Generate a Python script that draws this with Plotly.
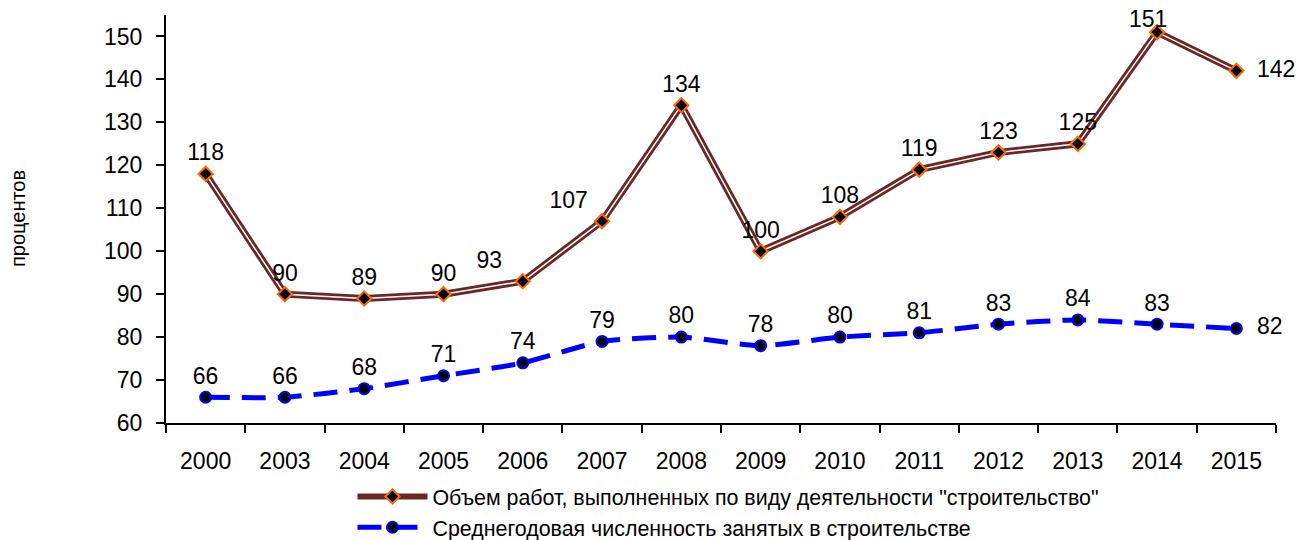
import plotly.graph_objects as go

years = ["2000", "2003", "2004", "2005", "2006", "2007", "2008",
         "2009", "2010", "2011", "2012", "2013", "2014", "2015"]
volume = [118, 90, 89, 90, 93, 107, 134, 100, 108, 119, 123, 125, 151, 142]
employment = [66, 66, 68, 71, 74, 79, 80, 78, 80, 81, 83, 84, 83, 82]

name_volume = 'Объем работ, выполненных по виду деятельности "строительство"'
name_employment = "Среднегодовая численность занятых в строительстве"
y_title = "процентов"

FONT = "Arial, 'Liberation Sans', sans-serif"
NUM_SIZE = 23

peak = volume.index(max(volume))

vol_pos = ["top center"] * len(years)
vol_pos[4] = "top left"
vol_pos[5] = "top left"
vol_pos[-1] = "middle right"
emp_pos = ["top center"] * len(years)
emp_pos[-1] = "middle right"

vol_text = [str(v) for v in volume]
vol_text[4] = vol_text[4] + "  "
vol_text[5] = vol_text[5] + " "
vol_text[peak] = ""  # peak label drawn as annotation (kept inside the page)
vol_text[-1] = "  " + vol_text[-1]
emp_text = [str(v) for v in employment]
emp_text[-1] = "  " + emp_text[-1]

fig = go.Figure()

# brown compound line (outer)
fig.add_trace(go.Scatter(
    x=years, y=volume, mode="lines", name=name_volume,
    line=dict(color="#6B2626", width=7), showlegend=False, hoverinfo="skip",
    legendgroup="v"))
# white inner stripe
fig.add_trace(go.Scatter(
    x=years, y=volume, mode="lines",
    line=dict(color="white", width=1.5), showlegend=False, hoverinfo="skip",
    legendgroup="v"))
# markers + labels
fig.add_trace(go.Scatter(
    x=years, y=volume, mode="markers+text", name=name_volume,
    text=vol_text, textposition=vol_pos, cliponaxis=False,
    textfont=dict(size=NUM_SIZE, color="black", family=FONT),
    marker=dict(symbol="diamond", size=11, color="black",
                line=dict(color="#FF6A00", width=2)),
    legendgroup="v", showlegend=False))
# legend proxy for brown series
fig.add_trace(go.Scatter(
    x=[None], y=[None], mode="lines+markers", name=name_volume,
    line=dict(color="#6B2626", width=6),
    marker=dict(symbol="diamond", size=11, color="black",
                line=dict(color="#FF6A00", width=2)),
    legendgroup="v"))

fig.add_trace(go.Scatter(
    x=years, y=employment, mode="lines+markers+text", name=name_employment,
    text=emp_text, textposition=emp_pos, cliponaxis=False,
    textfont=dict(size=NUM_SIZE, color="black", family=FONT),
    line=dict(color="#0000FF", width=5, dash="24px,12px", shape="spline", smoothing=0.6),
    marker=dict(symbol="circle", size=11, color="black",
                line=dict(color="#0000FF", width=2)),
    legendgroup="e"))

fig.update_layout(
    width=1299, height=540,
    margin=dict(l=166, r=23, t=15, b=117, autoexpand=False),
    paper_bgcolor="white", plot_bgcolor="white",
    font=dict(family=FONT, size=NUM_SIZE, color="black"),
    showlegend=True,
    legend=dict(x=0.168, y=-0.130, xanchor="left", yanchor="top",
                font=dict(size=21.4, family=FONT), tracegroupgap=0,
                traceorder="grouped", itemwidth=70, bgcolor="rgba(0,0,0,0)"),
    annotations=[
        dict(text=y_title, textangle=-90, xref="paper", yref="paper",
             x=-0.1333, y=0.5, xanchor="center", yanchor="middle",
             showarrow=False, font=dict(size=20, family=FONT)),
        dict(text=str(volume[peak]), x=peak, y=volume[peak], xref="x", yref="y",
             showarrow=False, xanchor="center", yanchor="middle",
             xshift=-9, yshift=13, font=dict(size=NUM_SIZE, family=FONT)),
    ],
)
fig.update_xaxes(type="category", range=[-0.5, 13.5],
                 showline=True, linecolor="black", linewidth=2,
                 ticks="outside", tickson="boundaries", ticklen=8, tickwidth=2,
                 tickcolor="black", showgrid=False, zeroline=False,
                 tickfont=dict(size=NUM_SIZE), ticklabelstandoff=16)
fig.update_yaxes(range=[60, 155], tickvals=[60, 70, 80, 90, 100, 110, 120, 130, 140, 150],
                 showline=True, linecolor="black", linewidth=2,
                 ticks="outside", ticklen=8, tickwidth=2, tickcolor="black",
                 showgrid=False, zeroline=False, tickfont=dict(size=NUM_SIZE),
                 ticklabelstandoff=9)

fig.write_html("out.html", config={"displayModeBar": False},
               post_script="document.body.style.margin='0px';")
